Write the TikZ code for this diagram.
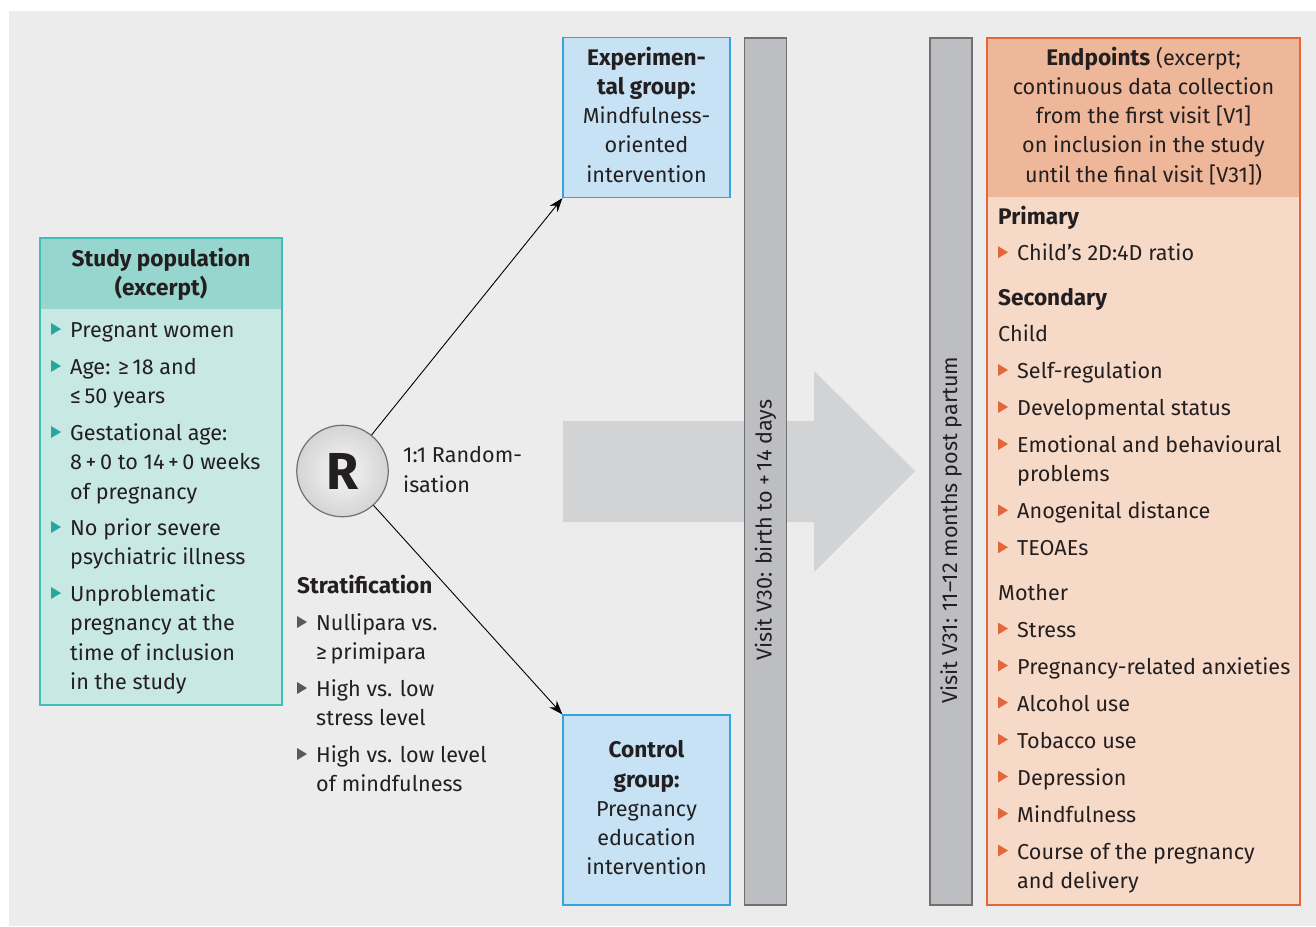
\documentclass[tikz,border=0pt]{standalone}
\usepackage{fontspec}
\setmainfont{Fira Sans}
\usetikzlibrary{arrows.meta}
\definecolor{bg}{HTML}{EBECEB}
\definecolor{txt}{HTML}{231F20}
\definecolor{tealhead}{HTML}{97D5CF}
\definecolor{tealbody}{HTML}{C8E8E4}
\definecolor{tealline}{HTML}{40C0B4}
\definecolor{tealtri}{HTML}{25A99E}
\definecolor{bluefill}{HTML}{C6E2F4}
\definecolor{blueline}{HTML}{35A3DC}
\definecolor{barfill}{HTML}{BDBEC1}
\definecolor{barline}{HTML}{707070}
\definecolor{arrowfill}{HTML}{D2D3D5}
\definecolor{orhead}{HTML}{EFB799}
\definecolor{orbody}{HTML}{F7D9C8}
\definecolor{orline}{HTML}{E2683C}
\definecolor{graytri}{HTML}{58595B}
\definecolor{ballin}{HTML}{E9E9E9}
\definecolor{ballout}{HTML}{B2B2B2}
\pgfdeclareradialshading{rball}{\pgfpoint{0bp}{0bp}}{color(0bp)=(ballin); color(10bp)=(ballin); color(50bp)=(ballout)}
\begin{document}
\begin{tikzpicture}[x=1pt,y=-1pt,
  every node/.style={text=txt,font=\fontsize{21.6}{29.3}\selectfont},
  lt/.style={anchor=base west,inner sep=0pt},
  ct/.style={anchor=base,inner sep=0pt},
  bt/.style={anchor=base west,inner sep=0pt,font=\fontsize{22.6}{29.3}\selectfont\bfseries},
  cbt/.style={anchor=base,inner sep=0pt,font=\fontsize{22.6}{29.3}\selectfont\bfseries},
  tri/.pic={\fill (0,-6) -- (10,0) -- (0,6) -- cycle;},
  conn/.style={draw=black,line width=0.9pt,-{Stealth[length=14pt,width=10pt]}}
]
\useasboundingbox (0,0) rectangle (1316,926);
\fill[bg] (9,11) rectangle (1316,926);

% big arrow
\fill[arrowfill] (563,421) -- (814,421) -- (814,371) -- (915,471) -- (814,572) -- (814,522) -- (563,522) -- cycle;

% study population box
\fill[tealbody] (40,238) rectangle (282,705);
\fill[tealhead] (40,238) rectangle (282,309);
\draw[tealline,line width=1.5pt] (40,238) rectangle (282,705);
\node[cbt] (sp1) at (161,266.5) {Study population};
\node[cbt] (sp2) at (161,295.8) {(excerpt)};
\pic[tealtri] at (51,329) {tri};
\node[lt] (p1) at (70,337.5) {Pregnant women};
\pic[tealtri] at (51,366) {tri};
\node[lt] (p2a) at (70,374.5) {Age: ≥\,18 and};
\node[lt] (p2b) at (70,403.8) {≤\,50 years};
\pic[tealtri] at (51,432) {tri};
\node[lt] (p3a) at (70,440.5) {Gestational age:};
\node[lt] (p3b) at (70,469.8) {8\,+\,0 to 14\,+\,0 weeks};
\node[lt] (p3c) at (70,499.1) {of pregnancy};
\pic[tealtri] at (51,527) {tri};
\node[lt] (p4a) at (70,535.5) {No prior severe};
\node[lt] (p4b) at (70,564.8) {psychiatric illness};
\pic[tealtri] at (51,593) {tri};
\node[lt] (p5a) at (70,601.5) {Unproblematic};
\node[lt] (p5b) at (70,630.8) {pregnancy at the};
\node[lt] (p5c) at (70,660.1) {time of inclusion};
\node[lt] (p5d) at (70,689.4) {in the study};

% randomisation circle
\node[circle,draw=barline,line width=1.2pt,minimum size=91.5pt,inner sep=0pt,
  shading=rball,
  font=\fontsize{52}{52}\selectfont\bfseries] (R) at (342.5,471) {R};
\node[lt] (r1) at (403,462.7) {1:1 Random-};
\node[lt] (r2) at (403,492) {isation};

% stratification
\node[bt] (st) at (297,593.5) {Stratification};
\pic[graytri] at (297,622) {tri};
\node[lt] (s1a) at (316,630.5) {Nullipara vs.};
\node[lt] (s1b) at (316,659.8) {≥\,primipara};
\pic[graytri] at (297,688) {tri};
\node[lt] (s2a) at (316,696.5) {High vs. low};
\node[lt] (s2b) at (316,725.8) {stress level};
\pic[graytri] at (297,754) {tri};
\node[lt] (s3a) at (316,762.5) {High vs. low level};
\node[lt] (s3b) at (316,791.8) {of mindfulness};

% experimental group
\node[draw=blueline,fill=bluefill,line width=1.2pt,minimum width=167pt,minimum height=160pt,inner sep=0pt] (exp) at (646.5,117.5) {};
\node[cbt] (e1) at (646.5,65) {Experimen-};
\node[cbt] (e2) at (646.5,94.3) {tal group:};
\node[ct] (e3) at (646.5,123.6) {Mindfulness-};
\node[ct] (e4) at (646.5,152.9) {oriented};
\node[ct] (e5) at (646.5,182.2) {intervention};

% control group
\node[draw=blueline,fill=bluefill,line width=1.2pt,minimum width=167pt,minimum height=190pt,inner sep=0pt] (ctl) at (646.5,810) {};
\node[cbt] (c1) at (646.5,757.7) {Control};
\node[cbt] (c2) at (646.5,787) {group:};
\node[ct] (c3) at (646.5,816.3) {Pregnancy};
\node[ct] (c4) at (646.5,845.6) {education};
\node[ct] (c5) at (646.5,874.9) {intervention};

% connectors
\draw[conn] (R) -- (exp.south west);
\draw[conn] (R) -- (ctl.north west);

% visit bars
\node[draw=barline,fill=barfill,line width=1.2pt,minimum width=42pt,minimum height=867pt,inner sep=0pt] (v30) at (765.5,471.5) {};
\node[rotate=90,inner sep=0pt] (v30t) at (765.5,530) {Visit V30: birth to +\,14 days};
\node[draw=barline,fill=barfill,line width=1.2pt,minimum width=42pt,minimum height=867pt,inner sep=0pt] (v31) at (951,471.5) {};
\node[rotate=90,inner sep=0pt] (v31t) at (951,530) {Visit V31: 11–12 months post partum};

% endpoints
\fill[orbody] (987,38) rectangle (1300,905);
\fill[orhead] (987,38) rectangle (1300,197);
\draw[orline,line width=1.5pt] (987,38) rectangle (1300,905);
\node[ct] (h1) at (1143.5,65) {{\fontsize{22.6}{29.3}\selectfont\bfseries Endpoints} (excerpt;};
\node[ct] (h2) at (1143.5,94.3) {continuous data collection};
\node[ct] (h3) at (1143.5,123.6) {from the first visit [V1]};
\node[ct] (h4) at (1143.5,152.9) {on inclusion in the study};
\node[ct] (h5) at (1143.5,182.2) {until the final visit [V31])};

\node[bt] (pr) at (998,224) {Primary};
\pic[orline] at (998,252.2) {tri};
\node[lt] (q1) at (1017,260.7) {Child’s 2D:4D ratio};
\node[bt] (se) at (998,305) {Secondary};
\node[lt] (ch) at (998,341.7) {Child};
\pic[orline] at (998,370) {tri};
\node[lt] (q2) at (1017,378.5) {Self-regulation};
\pic[orline] at (998,407) {tri};
\node[lt] (q3) at (1017,415.5) {Developmental status};
\pic[orline] at (998,444) {tri};
\node[lt] (q4a) at (1017,452.5) {Emotional and behavioural};
\node[lt] (q4b) at (1017,481.8) {problems};
\pic[orline] at (998,510.3) {tri};
\node[lt] (q5) at (1017,518.8) {Anogenital distance};
\pic[orline] at (998,547.3) {tri};
\node[lt] (q6) at (1017,555.8) {TEOAEs};
\node[lt] (mo) at (998,600) {Mother};
\pic[orline] at (998,628.5) {tri};
\node[lt] (m1) at (1017,637) {Stress};
\pic[orline] at (998,665.5) {tri};
\node[lt] (m2) at (1017,674) {Pregnancy-related anxieties};
\pic[orline] at (998,702.5) {tri};
\node[lt] (m3) at (1017,711) {Alcohol use};
\pic[orline] at (998,739.5) {tri};
\node[lt] (m4) at (1017,748) {Tobacco use};
\pic[orline] at (998,776.5) {tri};
\node[lt] (m5) at (1017,785) {Depression};
\pic[orline] at (998,813.5) {tri};
\node[lt] (m6) at (1017,822) {Mindfulness};
\pic[orline] at (998,850.5) {tri};
\node[lt] (m7a) at (1017,859) {Course of the pregnancy};
\node[lt] (m7b) at (1017,888.3) {and delivery};
\end{tikzpicture}
\end{document}
